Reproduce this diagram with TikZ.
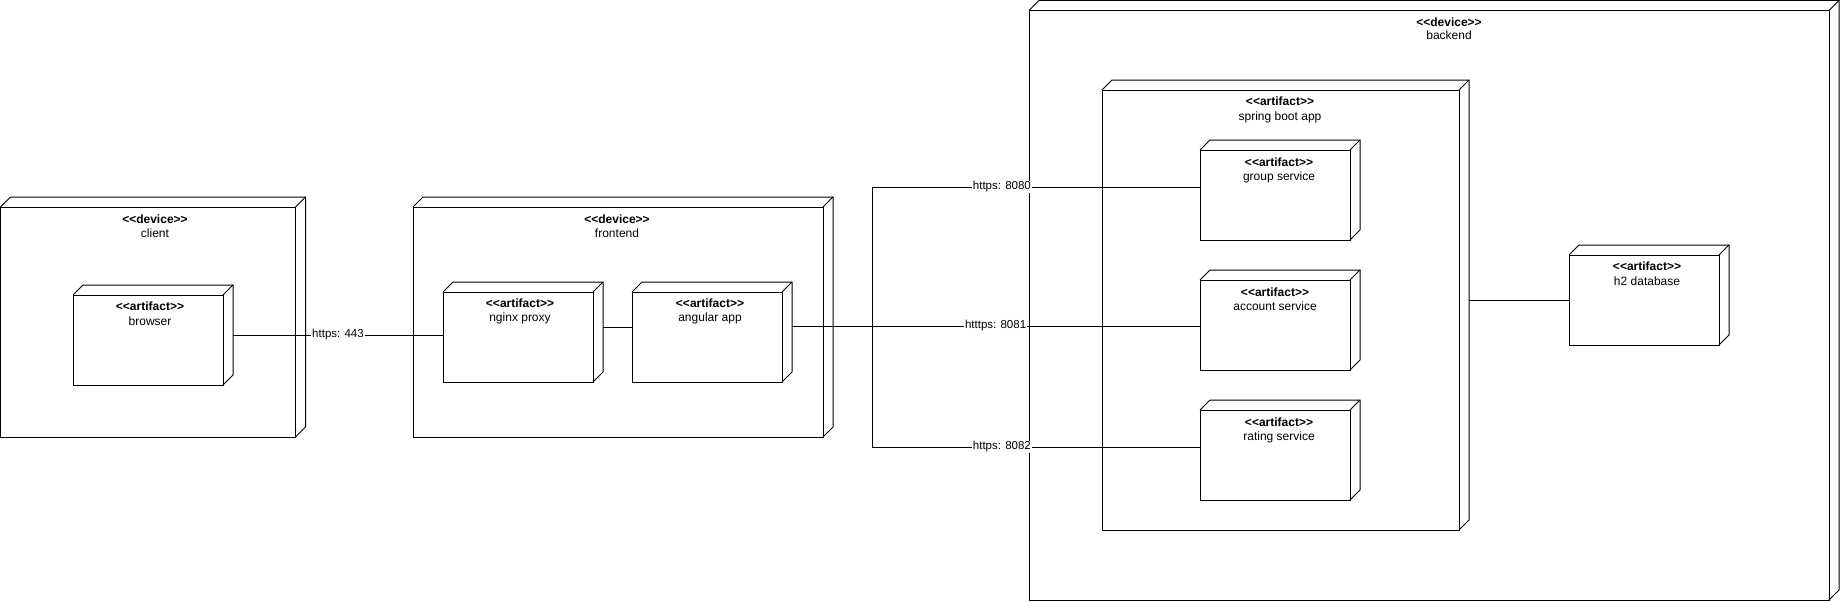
\documentclass[tikz,border=0pt]{standalone}
\usepackage{fontspec}
\setmainfont{Liberation Sans}[Ligatures=TeXOff]
\usetikzlibrary{calc}
\tikzset{
  nd/.style={draw=none, minimum width=160pt, minimum height=100pt, anchor=north west, inner sep=0pt, outer sep=0pt},
  st/.style={anchor=base, inner sep=0pt, font=\fontsize{12}{14}\selectfont\bfseries},
  nm/.style={anchor=base, inner sep=0pt, font=\fontsize{12}{14}\selectfont},
  lbl/.style={fill=white, inner sep=1pt, font=\fontsize{11.5}{13}\selectfont},
  conn/.style={draw, line width=1pt},
  shp/.style={draw, line width=1pt, line join=miter},
}
\newcommand\cubebox[1]{%
  \draw[shp] ([yshift=-10pt]#1.north west) rectangle ([xshift=-10pt]#1.south east);
  \draw[shp] ([yshift=-10pt]#1.north west) -- ([xshift=10pt]#1.north west) -- (#1.north east) -- ([yshift=10pt]#1.south east) -- ([xshift=-10pt]#1.south east);
  \draw[shp] ([shift={(-10pt,-10pt)}]#1.north east) -- (#1.north east);
}
\begin{document}
\begin{tikzpicture}[x=1pt,y=-1pt]
\useasboundingbox (0,0) rectangle (1841,602);
% nodes (bounds include the 3D depth)
\node[nd, minimum width=305pt, minimum height=240pt] (client) at (0.5,197) {};
\node[nd] (browser) at (73,285) {};
\node[nd, minimum width=420pt, minimum height=240pt] (frontend) at (413,197) {};
\node[nd] (nginx) at (443,282) {};
\node[nd] (angular) at (632,282) {};
\node[nd, minimum width=810pt, minimum height=599.5pt] (backend) at (1029,0.5) {};
\node[nd, minimum width=367pt, minimum height=450pt] (spring) at (1102,80) {};
\node[nd] (group) at (1200,140) {};
\node[nd] (account) at (1200,270) {};
\node[nd] (rating) at (1200,400) {};
\node[nd] (h2) at (1569,245) {};
\foreach \n in {client,browser,frontend,nginx,angular,backend,spring,group,account,rating,h2}{\cubebox{\n}}
% texts
\node[st] (client-s) at (155,223.5) {<<device>>};
\node[nm] (client-n) at (155,237.5) {client};
\node[st] (browser-s) at (150,310.5) {<<artifact>>};
\node[nm] (browser-n) at (150,325.5) {browser};
\node[st] (frontend-s) at (617,223.5) {<<device>>};
\node[nm] (frontend-n) at (617,237.5) {frontend};
\node[st] (nginx-s) at (520,307.5) {<<artifact>>};
\node[nm] (nginx-n) at (520,321.5) {nginx proxy};
\node[st] (angular-s) at (710,307.5) {<<artifact>>};
\node[nm] (angular-n) at (710,321.5) {angular app};
\node[st] (backend-s) at (1449,26.5) {<<device>>};
\node[nm] (backend-n) at (1449,39.5) {backend};
\node[st] (spring-s) at (1280,105.5) {<<artifact>>};
\node[nm] (spring-n) at (1280,120.5) {spring boot app};
\node[st] (group-s) at (1279,166.5) {<<artifact>>};
\node[nm] (group-n) at (1279,180.5) {group service};
\node[st] (account-s) at (1275,296.5) {<<artifact>>};
\node[nm] (account-n) at (1275,310.5) {account service};
\node[st] (rating-s) at (1279,426.5) {<<artifact>>};
\node[nm] (rating-n) at (1279,440.5) {rating service};
\node[st] (h2-s) at (1647,270.5) {<<artifact>>};
\node[nm] (h2-n) at (1647,285.5) {h2 database};
% connector helper coordinates
\coordinate (fe) at (0,327);
\coordinate (bus) at (872,326);
\coordinate (g) at (0,187);
\coordinate (r) at (0,447);
\coordinate (db) at (0,300);
% connectors
\draw[conn] (browser.east) -- (browser.east -| nginx.west) node[lbl, midway] {https: 443};
\draw[conn] (nginx.east |- fe) -- (angular.west |- fe);
\draw[conn] (angular.east |- bus) -- (account.west |- bus) node[lbl, pos=0.499] {htttps: 8081};
\draw[conn] (angular.east |- bus) -- (bus) -- (bus |- g) -- (group.west |- g) node[lbl, pos=0.396] {https: 8080};
\draw[conn] (angular.east |- bus) -- (bus) -- (bus |- r) -- (rating.west |- r) node[lbl, pos=0.396] {https: 8082};
\draw[conn] (spring.east |- db) -- (h2.west |- db);
\end{tikzpicture}
\end{document}
